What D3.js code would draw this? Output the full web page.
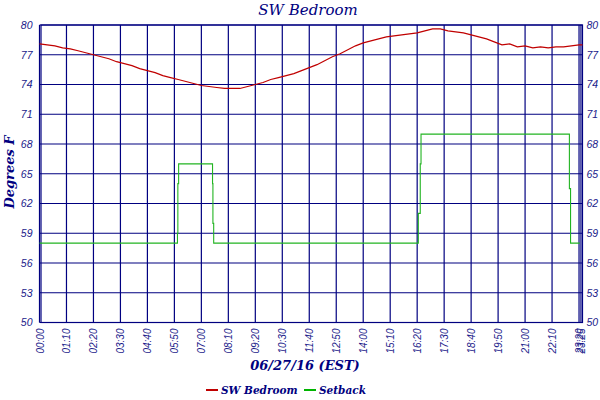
<!DOCTYPE html>
<html><head><meta charset="utf-8">
<script src="https://cdn.jsdelivr.net/npm/d3@7"></script>
<style>
body{margin:0;background:#fff;}
svg{display:block;}
</style></head>
<body>
<svg id="chart" width="600" height="400"></svg>
<script>
// ---- data ----
const chartTitle = "SW Bedroom";
const yTitle = "Degrees F";
const xTitle = "06/27/16 (EST)";
const seriesNames = ["SW Bedroom", "Setback"];
const yTicks = [50, 53, 56, 59, 62, 65, 68, 71, 74, 77, 80];
// tick positions in minutes after midnight and their labels
const xTickMinutes = [0, 70, 140, 210, 280, 350, 420, 490, 560, 630, 700, 770, 840, 910, 980, 1050, 1120, 1190, 1260, 1330, 1400, 1405];
const xTickLabels = ["00:00","01:10","02:20","03:30","04:40","05:50","07:00","08:10","09:20","10:30","11:40","12:50","14:00","15:10","16:20","17:30","18:40","19:50","21:00","22:10","23:20","23:25"];
const xEndMinute = 1409;
// SW Bedroom temperature (every 20 minutes)
const tempMinutes = [0,20,40,60,80,100,120,140,160,180,200,220,240,260,280,300,320,340,360,380,400,420,440,460,480,500,520,540,560,580,600,620,640,660,680,700,720,740,760,780,800,820,840,860,880,900,920,940,960,980,1000,1020,1040,1060,1080,1100,1120,1140,1160,1180,1200,1220,1240,1260,1280,1300,1320,1340,1360,1380,1400,1409];
const tempValues = [78.1,78.0,77.9,77.7,77.6,77.4,77.2,77.0,76.8,76.6,76.3,76.1,75.9,75.6,75.4,75.2,74.9,74.7,74.5,74.3,74.1,73.9,73.8,73.7,73.6,73.6,73.6,73.8,74.0,74.2,74.5,74.7,74.9,75.1,75.4,75.7,76.0,76.4,76.8,77.1,77.5,77.9,78.2,78.4,78.6,78.8,78.9,79.0,79.1,79.2,79.4,79.6,79.6,79.4,79.3,79.2,79.0,78.8,78.6,78.3,78.0,78.1,77.8,77.9,77.7,77.8,77.7,77.8,77.8,77.9,78.0,78.0];
// Setback schedule (step)
const setbackMinutes = [0, 358, 359, 361, 449, 450, 452, 983, 988, 990, 1375, 1378, 1402];
const setbackValues  = [58, 59, 64, 66, 64, 60, 58, 61, 66, 69, 63.5, 58, 58];

// ---- drawing ----
const svg = d3.select("#chart");
const navy = "#000080";
const labelColor = "#1a1a8a";
const plotL = 39.5, plotR = 582.5, plotT = 25, plotB = 322.5;

const x = d3.scaleLinear().domain([0, xEndMinute]).range([plotL, plotR]);
const y = d3.scaleLinear().domain([50, 80]).range([plotB, plotT]);

const grid = svg.append("g").attr("stroke", navy).attr("stroke-width", 1.2).attr("fill", "none");
grid.selectAll("line.h").data(yTicks).join("line").attr("class", "h")
  .attr("x1", plotL).attr("x2", plotR)
  .attr("y1", d => y(d)).attr("y2", d => y(d));
grid.selectAll("line.v").data(xTickMinutes).join("line").attr("class", "v")
  .attr("x1", d => x(d)).attr("x2", d => x(d))
  .attr("y1", plotT).attr("y2", plotB);
grid.append("rect").attr("x", plotL + 1.5).attr("y", plotT).attr("width", plotR - plotL - 1.5).attr("height", plotB - plotT);

// y axis labels left and right
const yAxisL = d3.axisLeft(y).tickValues(yTicks).tickSize(0).tickPadding(7);
const gL = svg.append("g").attr("transform", `translate(${plotL},0)`).call(yAxisL);
const yAxisR = d3.axisRight(y).tickValues(yTicks).tickSize(0).tickPadding(4);
const gR = svg.append("g").attr("transform", `translate(${plotR},0)`).call(yAxisR);
[gL, gR].forEach(g => {
  g.select(".domain").remove();
  g.selectAll("text").attr("fill", labelColor).style("font-family", "'Liberation Sans', Arial, sans-serif")
    .style("font-style", "italic").style("font-size", "10.5px");
});

// x axis labels
const xAxis = d3.axisBottom(x).tickValues(xTickMinutes).tickSize(0).tickPadding(0)
  .tickFormat((d, i) => xTickLabels[i]);
const gX = svg.append("g").attr("transform", `translate(0,${plotB})`).call(xAxis);
gX.select(".domain").remove();
gX.selectAll("text")
  .attr("fill", labelColor)
  .style("font-family", "'Liberation Sans', Arial, sans-serif")
  .style("font-style", "italic").style("font-size", "10px")
  .attr("text-anchor", "end")
  .attr("transform", "rotate(-90)")
  .attr("x", -6).attr("y", 0).attr("dy", "0.35em");

// lines
const tempData = tempMinutes.map((m, i) => [m, tempValues[i]]);
const setData = setbackMinutes.map((m, i) => [m, setbackValues[i]]);

svg.append("path").datum(setData)
  .attr("fill", "none").attr("stroke", "#22b422").attr("stroke-width", 1.1)
  .attr("d", d3.line().x(d => x(d[0])).y(d => y(d[1])).curve(d3.curveStepAfter));

svg.append("path").datum(tempData)
  .attr("fill", "none").attr("stroke", "#c00000").attr("stroke-width", 1.2)
  .attr("d", d3.line().x(d => x(d[0])).y(d => y(d[1])));

// titles
const serif = "'DejaVu Serif', 'Liberation Serif', serif";
svg.append("text").attr("x", 308).attr("y", 15).attr("text-anchor", "middle")
  .attr("fill", navy).style("font-family", serif).style("font-style", "italic").style("font-size", "15px")
  .text(chartTitle);

svg.append("text").attr("transform", "translate(14,172) rotate(-90)").attr("text-anchor", "middle")
  .attr("fill", navy).style("font-family", serif).style("font-style", "italic").style("font-weight", "bold").style("font-size", "13px")
  .text(yTitle);

svg.append("text").attr("x", 305).attr("y", 370).attr("text-anchor", "middle")
  .attr("fill", navy).style("font-family", serif).style("font-style", "italic").style("font-weight", "bold").style("font-size", "13px")
  .text(xTitle);

// legend
const legendColors = ["#c00000", "#00b400"];
const legendX = [206, 304];
const lg = svg.append("g").selectAll("g").data(seriesNames).join("g")
  .attr("transform", (d, i) => `translate(${legendX[i]},390)`);
lg.append("line").attr("x1", 0).attr("x2", 12).attr("y1", 0).attr("y2", 0)
  .attr("stroke", (d, i) => legendColors[i]).attr("stroke-width", 2);
lg.append("text").attr("x", 15).attr("y", 4).text(d => d)
  .attr("fill", navy).style("font-family", serif).style("font-style", "italic").style("font-weight", "bold").style("font-size", "10.5px");
</script>
</body></html>
